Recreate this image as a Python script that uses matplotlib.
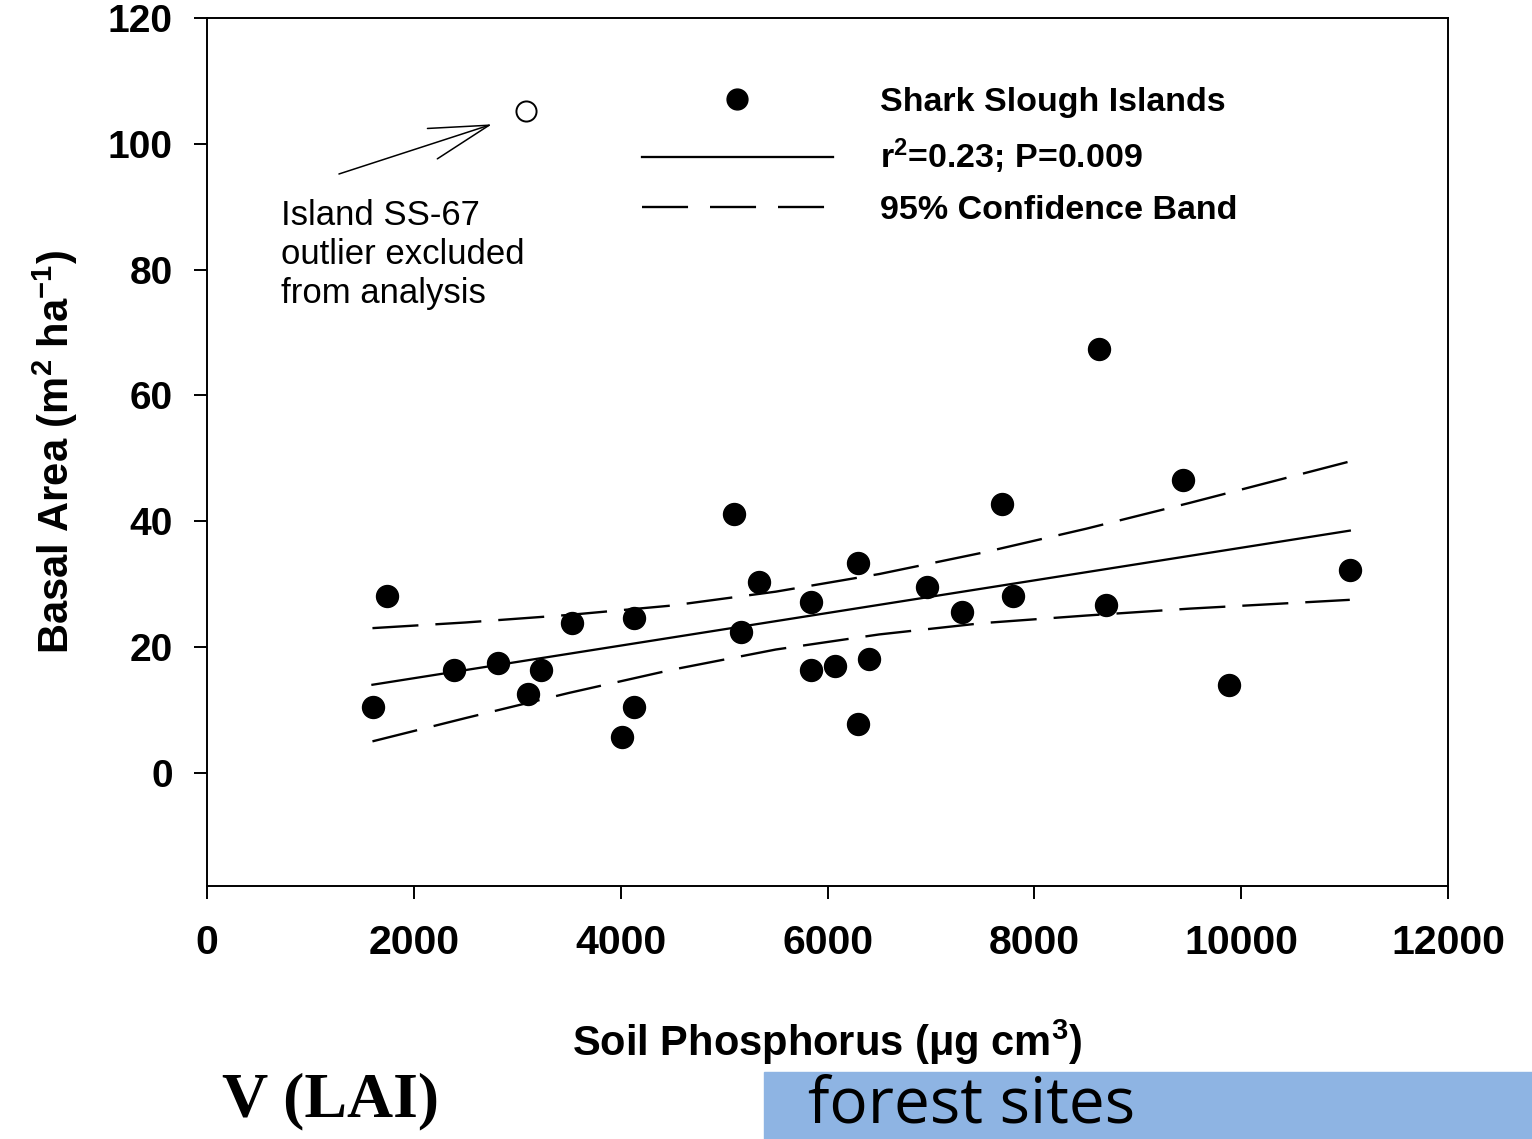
import numpy as np
import matplotlib
matplotlib.use("Agg")
import matplotlib.pyplot as plt
from matplotlib.lines import Line2D
from matplotlib.patches import Rectangle

# datos ----------------------------------------------------------------

fosforo = [1605, 1740, 2388, 2814, 3104, 3230, 3529, 4013, 4129, 4129,
           5096, 5163, 5337, 5840, 5840, 6072, 6295, 6295, 6401, 6962,
           7300, 7687, 7793, 8625, 8693, 9438, 9882, 11052]
area_basal = [10.5, 28.1, 16.4, 17.5, 12.6, 16.4, 23.8, 5.7, 24.6, 10.5,
              41.2, 22.4, 30.4, 27.2, 16.4, 17.0, 33.4, 7.8, 18.1, 29.6,
              25.6, 42.8, 28.1, 67.4, 26.7, 46.6, 14.0, 32.3]

# isla SS-67 (excluida)
outlier_x = [3085]
outlier_y = [105.2]

# recta de regresion y banda de confianza 95 %
ajuste_x = [1600, 11050]
ajuste_y = [14.0, 38.5]
banda_x = [1600, 2500, 3500, 4500, 5500, 6500, 7500, 8500, 9500, 11050]
banda_sup = [23.0, 23.9, 25.1, 26.6, 28.8, 31.6, 35.0, 38.8, 42.9, 49.5]
banda_inf = [5.0, 8.7, 12.7, 16.4, 19.6, 22.0, 23.8, 25.0, 26.1, 27.5]

xticks = [0, 2000, 4000, 6000, 8000, 10000, 12000]
yticks = [0, 20, 40, 60, 80, 100, 120]

# estilo ---------------------------------------------------------------

plt.rcParams["font.family"] = ["Liberation Sans", "DejaVu Sans"]
plt.rcParams["mathtext.fontset"] = "custom"
plt.rcParams["mathtext.rm"] = "Liberation Sans:bold"
plt.rcParams["mathtext.bf"] = "Liberation Sans:bold"
plt.rcParams["mathtext.default"] = "bf"

DASH = (19.5, 7.2)
DASH_LEY = (19.5, 9.3)

fig = plt.figure(figsize=(15.32, 11.39), dpi=100)
ax = fig.add_axes([0.1351, 0.2221, 0.8101, 0.7621])

# puntos y lineas ------------------------------------------------------

ax.scatter(fosforo, area_basal, s=250, color="black", zorder=3)
ax.scatter(outlier_x, outlier_y, s=210, facecolor="white",
           edgecolor="black", linewidth=1.4, zorder=3)
ax.plot(ajuste_x, ajuste_y, color="black", lw=1.65)
ax.plot(banda_x, banda_sup, color="black", lw=1.7, dashes=DASH)
ax.plot(banda_x, banda_inf, color="black", lw=1.7, dashes=DASH)

# anotacion del outlier ------------------------------------------------

ax.annotate("", xy=(2756, 103.1), xytext=(1276, 95.2),
            arrowprops=dict(arrowstyle="->,head_length=43,head_width=11.5",
                            mutation_scale=1, lw=1.1, color="black",
                            shrinkA=0, shrinkB=0))
ax.text(717, 91.2, "Island SS-67\noutlier excluded\nfrom analysis",
        fontsize=25, ha="left", va="top", linespacing=1.22)

# ejes -----------------------------------------------------------------

ax.set_xlim(0, 12000)
ax.set_ylim(-18, 120)
ax.set_xticks(xticks)
ax.set_yticks(yticks)
ax.tick_params(direction="out", length=9.5, width=1.4, labelsize=28)
ax.tick_params(axis="x", pad=18, labelsize=29.5)
ax.tick_params(axis="y", pad=15)
for lab in ax.get_xticklabels() + ax.get_yticklabels():
    lab.set_fontweight("bold")
for sp in ax.spines.values():
    sp.set_linewidth(1.4)

ax.set_xlabel("Soil Phosphorus (\u03bcg cm$^{3}$)", fontsize=30,
              fontweight="bold")
ax.xaxis.set_label_coords(0.5, -0.152)
ax.set_ylabel("Basal Area (m$^{2}$ ha$^{-1}$)", fontsize=30,
              fontweight="bold")
ax.yaxis.set_label_coords(-0.102, 0.5)

# leyenda --------------------------------------------------------------

handles = [
    Line2D([], [], ls="none", marker="o", ms=15, color="black"),
    Line2D([], [], color="black", lw=1.65),
    Line2D([], [], color="black", lw=1.7, dashes=DASH_LEY),
]
etiquetas = ["Shark Slough Islands", "r$^{2}$=0.23; P=0.009",
             "95% Confidence Band"]
leg = ax.legend(handles, etiquetas, loc="upper left",
                bbox_to_anchor=(0.3397, 0.936), frameon=False,
                handlelength=5.6, handletextpad=1.4, labelspacing=0.55,
                borderaxespad=0,
                prop={"size": 24.5, "weight": "bold"})

# restos de la diapositiva ---------------------------------------------

fig.text(222 / 1532, 1 - 1101 / 1139, "V (LAI)", fontsize=46,
         fontweight="bold", family=["Liberation Serif", "DejaVu Serif"],
         ha="left", va="center")
fig.patches.append(Rectangle((764 / 1532, 0), 1 - 764 / 1532, 67 / 1139,
                             transform=fig.transFigure, color="#8EB4E3",
                             zorder=0))
fig.text(808 / 1532, 1.5 / 1139, "forest sites", fontsize=46,
         family=["Open Sans", "DejaVu Sans"], ha="left", va="bottom")

fig.savefig("out.png", dpi=100)
